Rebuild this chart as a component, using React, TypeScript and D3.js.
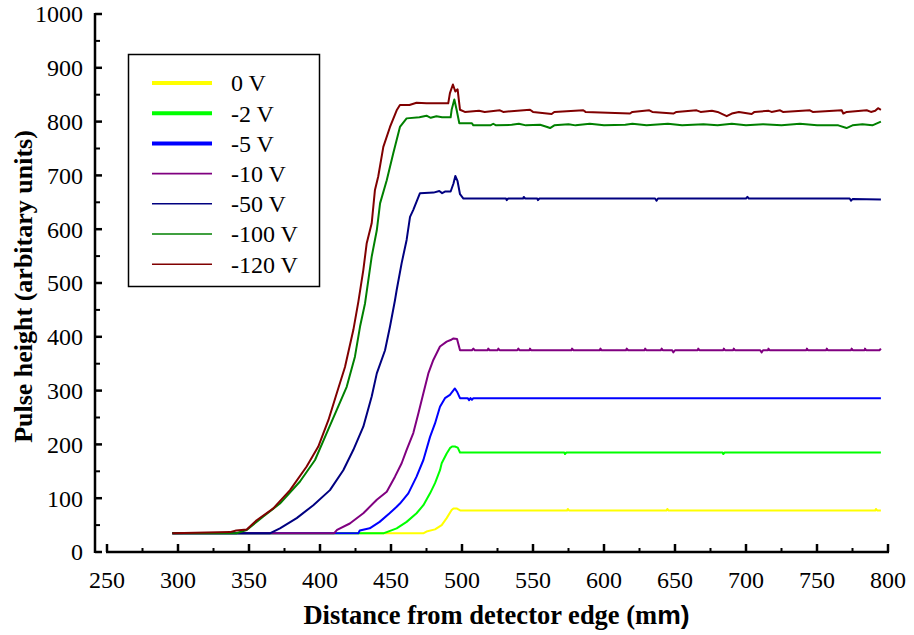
import React from "react";
import * as d3 from "d3";

type Pt = [number, number];

const seriesNames = ["0 V", "-2 V", "-5 V", "-10 V", "-50 V", "-100 V", "-120 V"];
const seriesColors = ["#ffff00", "#00ff00", "#0000ff", "#800080", "#000080", "#008000", "#800000"];
const legendWidths = [4, 4, 4, 1.6, 1.6, 1.6, 1.6];

const xTicks = [250, 300, 350, 400, 450, 500, 550, 600, 650, 700, 750, 800];
const xMinor = [275, 325, 375, 425, 475, 525, 575, 625, 675, 725, 775];
const yTicks = [0, 100, 200, 300, 400, 500, 600, 700, 800, 900, 1000];
const yMinor = [50, 150, 250, 350, 450, 550, 650, 750, 850, 950];

const v0: Pt[] = [[296,35],[473,35],[475,38],[481,42],[485.7,50],[489.2,63],[492.7,78],[494,81],[496.2,81],[499,77],[574,77],[574.5,80],[575.5,77],[644,77],[644.6,80],[645.5,77],[791,77],[791.5,80],[792.5,77],[795,77]];

const v2: Pt[] = [[296,35],[445,35],[447,37],[454,44],[461,56],[468,72],[472.8,87],[477.5,109],[481,128],[484.5,152],[485.7,165],[489.2,183],[491.5,193],[493,196],[495,196],[497,194],[498.6,185],[572,185],[572.5,182],[573.5,185],[683.5,185],[684,182],[685,185],[795,185]];

const v5: Pt[] = [[296,35],[427,35],[428,40],[435,44],[442,56],[449,72],[454,84],[456.3,90],[462.2,109],[468,140],[472.8,171],[477.5,214],[481,239],[484.5,270],[488,286],[491.5,292],[495,304],[496.5,298],[498.6,286],[504,286],[505,282],[506,286],[507,283],[508,286],[795,286]];

const v10: Pt[] = [[296,35],[410,35],[412,41],[421,53],[430.5,72],[440,97],[447,112],[452.8,140],[457.5,165],[461,190],[465.7,221],[469.3,258],[472.8,295],[476.3,332],[479.8,357],[484.5,382],[489.2,391],[492,394],[494,397],[496.5,396],[498.6,375],[507,375],[508,378],[509,375],[518,375],[518.5,378],[519.5,375],[525,375],[525.6,378],[526.5,375],[539,375],[539.7,378],[540.5,375],[547.5,375],[547.9,378],[548.6,375],[577,375],[577.5,378],[578.5,375],[597,375],[597.5,378],[598.2,375],[615.5,375],[616,378],[617,375],[628.5,375],[629,378],[629.8,375],[640,375],[640.6,378],[641.4,375],[648,375],[648.8,371],[650,375],[666,375],[666.4,378],[667.2,375],[684,375],[684.4,378],[685.2,375],[691,375],[691.4,378],[692.2,375],[710,375],[711,371],[712,375],[715.5,375],[715.8,378],[716.6,375],[742.5,375],[742.9,378],[743.6,375],[756.5,375],[756.9,378],[757.6,375],[774,375],[774.4,378],[775.2,375],[783.5,375],[783.8,378],[784.6,375],[794,375],[795,378]];

const v50: Pt[] = [[296,35],[365,35],[371.8,44],[383.6,63],[395.3,87],[407,115],[416.4,152],[423.5,190],[430.5,233],[436.4,289],[440,332],[445.8,375],[449.3,419],[452.8,468],[454,487],[457.5,537],[461,580],[463.4,623],[465.7,636],[470.4,667],[480,668],[484,671],[486,667],[488,670],[492,670],[494,685],[495.3,699],[496.8,690],[498.6,665],[501,657],[531,657],[531.5,654],[532.5,657],[543,657],[543.5,660],[544.5,657],[553,657],[553.5,654],[554.5,657],[636,657],[637,653],[638,657],[700,657],[701,660],[702,657],[773,657],[774,653],[775,656],[795,655]];

const v100: Pt[] = [[296,35],[341,35],[348.4,41],[360.1,66],[371.8,90],[385.9,131],[396.5,171],[404.7,221],[411.8,264],[418.8,307],[424.6,363],[428.2,419],[431.7,462],[436.4,549],[440,598],[442.3,648],[447,691],[451.6,741],[456.3,790],[461,806],[470,808],[475,811],[478,807],[482,810],[486,808],[492,808],[492.7,822],[494.6,841],[496.2,822],[498.1,797],[507,797],[508,793],[520,793],[522,796],[524,793],[535,794],[540,796],[545,793],[555,794],[560,790],[562,788],[565,793],[575,795],[580,793],[590,796],[600,793],[615,794],[620,796],[630,793],[645,796],[655,793],[670,795],[680,793],[690,796],[700,793],[712,795],[725,793],[738,796],[750,793],[765,793],[770.8,788],[775,793],[782,795],[789,793],[795,800]];

const v120: Pt[] = [[296,35],[336.6,37],[341,40],[348.4,42],[355.4,59],[367.1,81],[378.9,115],[390.6,159],[398.8,196],[405.9,245],[411.8,295],[417.6,344],[423.5,413],[427,465],[430.5,524],[432.9,574],[436.4,611],[438.7,673],[441,698],[444.6,753],[449.3,790],[454,821],[456.3,831],[463,831],[468,835],[475,834],[480,834],[490.3,834],[491.5,853],[493.6,869],[495.3,856],[496.9,860],[498.6,822],[502,818],[512,820],[516,818],[526.7,821],[529,818],[547.9,822],[550,818],[563.1,814],[565,818],[585.4,821],[587,818],[618.3,815],[620,818],[631.9,821],[634,818],[648.8,815],[651,818],[665.2,821],[668,818],[676,820],[680,818],[686.4,810],[690,815],[695,818],[704,814],[706,818],[716,820],[718,818],[724,821],[726,818],[745,821],[747,818],[767.4,821],[768.5,815],[771,818],[785,821],[788,818],[791,820],[793,825],[795,822]];

const seriesData: Pt[][] = [v0, v2, v5, v10, v50, v100, v120];

const serif = "Liberation Serif";
const sans = "Liberation Sans";

export default function App() {
  const W = 914, H = 635;
  const x = d3.scaleLinear().domain([250, 800]).range([107, 888]);
  const y = d3.scaleLinear().domain([0, 1000]).range([552, 14]);
  const line = d3.line<Pt>().x(d => x(d[0])).y(d => y(d[1]));
  const yAxisX = 95;
  const xAxisY = 552;

  return (
    <svg width={W} height={H} viewBox={`0 0 ${W} ${H}`} style={{ position: "absolute", left: 0, top: 0, background: "#fff" }}>
      {seriesData.map((s, i) => (
        <path key={i} d={line(s) || ""} fill="none" stroke={seriesColors[i]} strokeWidth={2} strokeLinejoin="round" />
      ))}

      <line x1={yAxisX} x2={yAxisX} y1={y(1000) - 1} y2={xAxisY + 1} stroke="#000" strokeWidth={2.5} />
      {yTicks.map(t => (
        <g key={"yt" + t}>
          <line x1={yAxisX} x2={yAxisX + 7} y1={y(t)} y2={y(t)} stroke="#000" strokeWidth={2.5} />
          <text x={83} y={y(t)} dy="0.35em" textAnchor="end" fontFamily={serif} fontSize={24}>{t}</text>
        </g>
      ))}
      {yMinor.map(t => (
        <line key={"ym" + t} x1={yAxisX} x2={yAxisX + 5} y1={y(t)} y2={y(t)} stroke="#000" strokeWidth={2} />
      ))}

      <line x1={x(250) - 1} x2={x(800) + 1} y1={xAxisY} y2={xAxisY} stroke="#000" strokeWidth={2.5} />
      {xTicks.map(t => (
        <g key={"xt" + t}>
          <line x1={x(t)} x2={x(t)} y1={xAxisY} y2={xAxisY - 8} stroke="#000" strokeWidth={2.5} />
          <text x={x(t)} y={580} dy="0.35em" textAnchor="middle" fontFamily={serif} fontSize={24}>{t}</text>
        </g>
      ))}
      {xMinor.map(t => (
        <line key={"xm" + t} x1={x(t)} x2={x(t)} y1={xAxisY} y2={xAxisY - 4} stroke="#000" strokeWidth={2} />
      ))}

      <text x={496.5} y={624} textAnchor="middle" fontFamily={serif} fontWeight="bold" fontSize={26.5}>
        Distance from detector edge (m<tspan fontFamily={sans}>m)</tspan>
      </text>
      <text transform="translate(32, 286.5) rotate(-90)" textAnchor="middle" fontFamily={serif} fontWeight="bold" fontSize={26}>
        Pulse height (arbitary units)
      </text>

      <rect x={128.5} y={54.5} width={191} height={232} fill="#fff" stroke="#000" strokeWidth={1.5} />
      {seriesNames.map((n, i) => {
        const ry = 83 + i * 30.2;
        return (
          <g key={"lg" + i}>
            <line x1={152} x2={212} y1={ry} y2={ry} stroke={seriesColors[i]} strokeWidth={legendWidths[i]} />
            <text x={231} y={ry} dy="0.35em" fontFamily={serif} fontSize={24}>{n}</text>
          </g>
        );
      })}
    </svg>
  );
}
